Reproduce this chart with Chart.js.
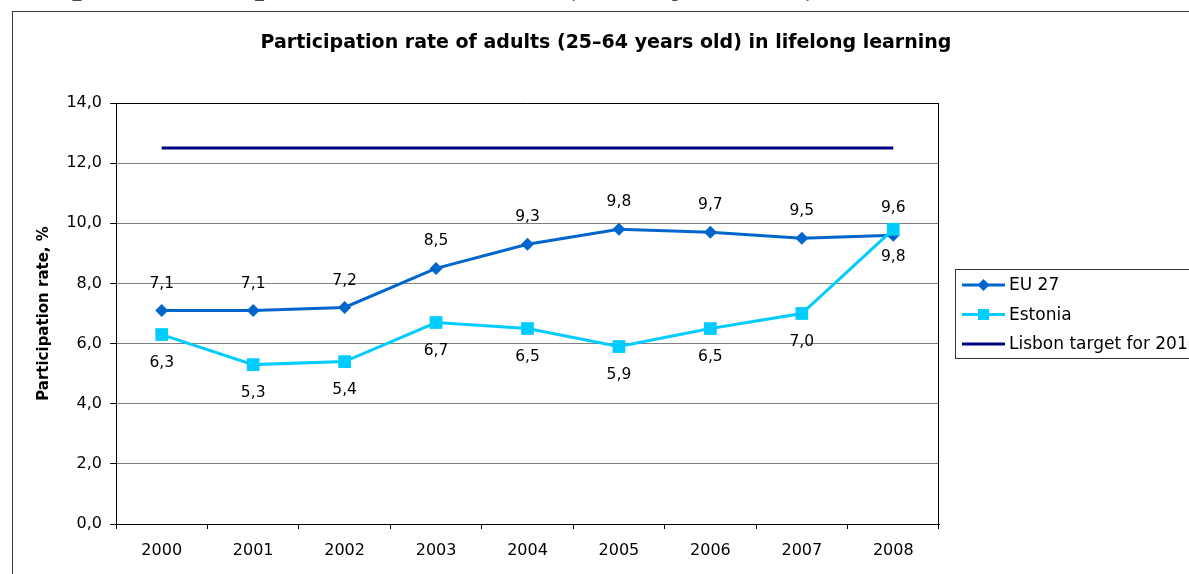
<!DOCTYPE html>
<html>
<head>
<meta charset="utf-8">
<script src="https://cdn.jsdelivr.net/npm/chart.js@4.4.0/dist/chart.umd.min.js"></script>
<style>
  html, body { margin: 0; padding: 0; background: #fff; overflow: hidden; }
  #page { position: relative; width: 1189px; height: 574px; overflow: hidden; }
  #caption {
    position: absolute; left: 12px; top: -31px; white-space: nowrap;
    font: bold 29px "Liberation Serif", "DejaVu Serif", serif; color: #4a4a3c;
    transform: scaleX(1.2); transform-origin: 0 0;
  }
  #frame {
    position: absolute; left: 12px; top: 11px; width: 1300px; height: 700px;
    border: 1px solid #3a3a3a; box-sizing: border-box;
  }
  #wrap { position: absolute; left: 0; top: 0; width: 1189px; height: 574px; }
</style>
</head>
<body>
<div id="page">
  <div id="caption">Graph 1. Participation rate of adults (25–64 years old)</div>
  <div id="frame"></div>
  <div id="wrap"><canvas id="lllChart"></canvas></div>
</div>
<script>
// --- data ---
const years = ['2000', '2001', '2002', '2003', '2004', '2005', '2006', '2007', '2008'];
const eu27 = [7.1, 7.1, 7.2, 8.5, 9.3, 9.8, 9.7, 9.5, 9.6];
const estonia = [6.3, 5.3, 5.4, 6.7, 6.5, 5.9, 6.5, 7.0, 9.8];
const lisbonTarget = [12.5, 12.5, 12.5, 12.5, 12.5, 12.5, 12.5, 12.5, 12.5];
const yTicks = [0, 2, 4, 6, 8, 10, 12, 14];

const chartTitle = 'Participation rate of adults (25–64 years old) in lifelong learning';
const yTitle = 'Participation rate, %';

const EU_COLOR = '#0066cc';
const EE_COLOR = '#00ccff';
const LISBON_COLOR = '#000080';
const FONT = '"DejaVu Sans", Verdana, sans-serif';

const fmt = v => v.toFixed(1).replace('.', ',');

// value labels above / below the markers
const valueLabels = {
    id: 'valueLabels',
    afterDatasetsDraw(chart) {
        const ctx = chart.ctx;
        ctx.save();
        ctx.font = '15.5px ' + FONT;
        ctx.fillStyle = '#000';
        ctx.textAlign = 'center';
        ctx.textBaseline = 'middle';
        chart.data.datasets.forEach((ds, i) => {
            if (!ds.labelPos) return;
            const meta = chart.getDatasetMeta(i);
            meta.data.forEach((pt, j) => {
                const dy = ds.labelPos === 'above' ? -27 : 28;
                ctx.fillText(fmt(ds.data[j]), pt.x, pt.y + dy);
            });
        });
        ctx.restore();
    }
};

// frame of the plot area, titles and the boxed legend
const decorations = {
    id: 'decorations',
    afterDraw(chart) {
        const ctx = chart.ctx;
        const a = chart.chartArea;
        ctx.save();

        ctx.strokeStyle = '#000';
        ctx.lineWidth = 1;
        ctx.beginPath();
        ctx.moveTo(a.left, Math.round(a.top) + 0.5);
        ctx.lineTo(a.right, Math.round(a.top) + 0.5);
        ctx.moveTo(Math.round(a.right) - 0.5, a.top);
        ctx.lineTo(Math.round(a.right) - 0.5, a.bottom);
        ctx.stroke();

        ctx.fillStyle = '#000';
        ctx.textAlign = 'center';
        ctx.textBaseline = 'middle';
        ctx.font = 'bold 19px ' + FONT;
        ctx.fillText(chartTitle, 606, 43);

        ctx.save();
        ctx.translate(44, (a.top + a.bottom) / 2);
        ctx.rotate(-Math.PI / 2);
        ctx.font = 'bold 15px ' + FONT;
        ctx.fillText(yTitle, 0, 0);
        ctx.restore();

        // legend box
        const lx = 955, ly = 269;
        ctx.strokeStyle = '#333';
        ctx.strokeRect(lx + 0.5, ly + 0.5, 300, 89);

        const items = [
            { text: 'EU 27', color: EU_COLOR, width: 3, marker: 'diamond' },
            { text: 'Estonia', color: EE_COLOR, width: 3, marker: 'square' },
            { text: 'Lisbon target for 2010', color: LISBON_COLOR, width: 3, marker: null }
        ];
        ctx.textAlign = 'left';
        ctx.font = '17px ' + FONT;
        items.forEach((it, k) => {
            const y = 285 + k * 29.5;
            ctx.strokeStyle = it.color;
            ctx.lineWidth = it.width;
            ctx.beginPath();
            ctx.moveTo(962, y);
            ctx.lineTo(1005, y);
            ctx.stroke();
            ctx.fillStyle = it.color;
            if (it.marker === 'diamond') {
                ctx.beginPath();
                ctx.moveTo(983.5, y - 6);
                ctx.lineTo(989.5, y);
                ctx.lineTo(983.5, y + 6);
                ctx.lineTo(977.5, y);
                ctx.closePath();
                ctx.fill();
            } else if (it.marker === 'square') {
                ctx.fillRect(978, y - 5.5, 11, 11);
            }
            ctx.fillStyle = '#000';
            ctx.fillText(it.text, 1009, y + 1);
        });

        ctx.restore();
    }
};

new Chart(document.getElementById('lllChart'), {
    type: 'line',
    data: {
        labels: years,
        datasets: [
            {
                label: 'EU 27',
                data: eu27,
                borderColor: EU_COLOR,
                backgroundColor: EU_COLOR,
                borderWidth: 3,
                pointStyle: 'rectRot',
                pointRadius: 6.5,
                pointBorderWidth: 0,
                tension: 0,
                order: 2,
                labelPos: 'above'
            },
            {
                label: 'Estonia',
                data: estonia,
                borderColor: EE_COLOR,
                backgroundColor: EE_COLOR,
                borderWidth: 3,
                pointStyle: 'rect',
                pointRadius: 9,
                pointBorderWidth: 0,
                tension: 0,
                order: 1,
                labelPos: 'below'
            },
            {
                label: 'Lisbon target for 2010',
                data: lisbonTarget,
                borderColor: LISBON_COLOR,
                borderWidth: 3,
                pointRadius: 0,
                tension: 0,
                order: 3
            }
        ]
    },
    options: {
        responsive: true,
        maintainAspectRatio: false,
        animation: false,
        layout: { padding: { left: 56, top: 103, right: 250, bottom: 0 } },
        plugins: {
            legend: { display: false },
            title: { display: false },
            tooltip: { enabled: false }
        },
        scales: {
            x: {
                offset: true,
                afterFit(scale) { scale.height = 50; },
                grid: { offset: true, drawOnChartArea: false, tickLength: 5, tickColor: '#000' },
                border: { color: '#000', width: 1 },
                ticks: { color: '#000', font: { family: FONT, size: 16 }, padding: 12, maxRotation: 0 }
            },
            y: {
                min: 0,
                max: 14,
                afterFit(scale) { scale.width = 60; },
                afterBuildTicks(scale) { scale.ticks = yTicks.map(v => ({ value: v })); },
                grid: { color: '#808080', tickLength: 6, tickColor: '#000' },
                border: { color: '#000', width: 1 },
                ticks: { color: '#000', font: { family: FONT, size: 16 }, padding: 8, callback: v => fmt(v) }
            }
        }
    },
    plugins: [valueLabels, decorations]
});
</script>
</body>
</html>
